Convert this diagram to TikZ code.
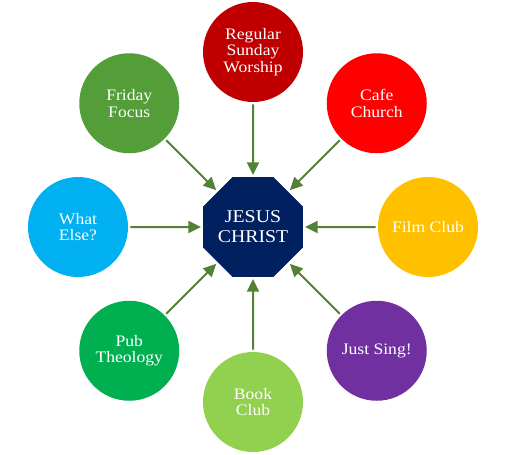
\documentclass[tikz,border=0pt]{standalone}
\usepackage{fontspec}
\setmainfont{Liberation Serif}[FakeStretch=1.1]
\usetikzlibrary{shapes.geometric,arrows.meta}
\definecolor{worship}{RGB}{192,0,0}
\definecolor{cafe}{RGB}{255,0,0}
\definecolor{film}{RGB}{255,192,0}
\definecolor{sing}{RGB}{112,48,160}
\definecolor{book}{RGB}{146,208,80}
\definecolor{pub}{RGB}{0,176,80}
\definecolor{whatelse}{RGB}{0,176,240}
\definecolor{friday}{RGB}{84,158,57}
\definecolor{centre}{RGB}{0,32,96}
\definecolor{feedgreen}{RGB}{83,129,53}
\begin{document}
\begin{tikzpicture}[x=0.75pt,y=0.75pt,
  ministry/.style={circle,fill=#1,minimum size=75pt,inner sep=0pt,align=center,text=white,font=\fontsize{12}{12.5}\selectfont},
  feed/.style={feedgreen,line width=1.5pt,-{Triangle[length=9.5pt,width=9pt]},shorten <=1.5pt,shorten >=1.5pt}]
\useasboundingbox (-253,-227) rectangle (252,227);
\node[regular polygon,regular polygon sides=8,fill=centre,minimum size=74pt,inner sep=0pt,align=center,text=white,font=\fontsize{13.5}{15}\selectfont] (jesus) at (0,0) {JESUS\\CHRIST};
\node[ministry=worship] (worship) at (90:175) {Regular\\Sunday\\Worship};
\node[ministry=cafe] (cafe) at (45:175) {Cafe\\Church};
\node[ministry=film] (film) at (0:175) {Film Club};
\node[ministry=sing] (sing) at (-45:175) {Just Sing!};
\node[ministry=book] (book) at (-90:175) {Book\\Club};
\node[ministry=pub] (pub) at (-135:175) {Pub\\Theology};
\node[ministry=whatelse] (whatelse) at (180:175) {What\\Else?};
\node[ministry=friday] (friday) at (135:175) {Friday\\Focus};
\draw[feed] (worship) -- (jesus);
\draw[feed] (cafe) -- (jesus);
\draw[feed] (film) -- (jesus);
\draw[feed] (sing) -- (jesus);
\draw[feed] (book) -- (jesus);
\draw[feed] (pub) -- (jesus);
\draw[feed] (whatelse) -- (jesus);
\draw[feed] (friday) -- (jesus);
\end{tikzpicture}
\end{document}
